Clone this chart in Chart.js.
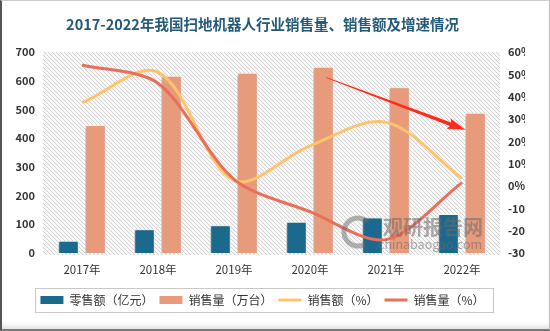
<!DOCTYPE html>
<html>
<head>
<meta charset="utf-8">
<script src="https://cdn.jsdelivr.net/npm/chart.js@4/dist/chart.umd.min.js"></script>
<style>
    body { margin: 0; background: #fff; }
    #wrap { position: relative; width: 550px; height: 331px; }
    #frame { position: absolute; left: 0; top: 0; width: 550px; height: 331px; box-sizing: border-box;
             border-left: 2px solid #555; border-right: 1px solid #bbb; border-top: 1px solid #ccc; border-bottom: 2px solid #777;
             box-shadow: inset 0 -6px 6px -4px rgba(0,0,0,0.15); pointer-events: none; }
</style>
</head>
<body>
<div id="wrap">
    <canvas id="myChart" width="550" height="331"></canvas>
    <div id="frame"></div>
</div>
<script>
    const years = ['2017年', '2018年', '2019年', '2020年', '2021年', '2022年'];
    const retailSales = [43, 83, 97, 109, 124, 136];        // 零售额（亿元）
    const salesVolume = [446, 617, 628, 649, 577, 488];     // 销售量（万台）
    const amountGrowth = [37.3, 51, 2.5, 18, 28.5, 3.4];    // 销售额（%）
    const volumeGrowth = [54.2, 46, 3, -11.5, -24, 1.5];    // 销售量（%）

    const leftTicks = [0, 100, 200, 300, 400, 500, 600, 700];
    const rightTicks = [-30, -20, -10, 0, 10, 20, 30, 40, 50, 60];

    const FONT = '"Noto Sans CJK SC", "Noto Sans", sans-serif';

    function makeHatch() {
        let c = document.createElement('canvas');
        c.width = 4;
        c.height = 4;
        let g = c.getContext('2d');
        g.fillStyle = '#f8f8f8';
        g.fillRect(0, 0, 4, 4);
        g.strokeStyle = '#d2d2d2';
        g.lineWidth = 1;
        g.beginPath();
        g.moveTo(0, 0); g.lineTo(4, 4);
        g.moveTo(-1, 3); g.lineTo(1, 5);
        g.moveTo(3, -1); g.lineTo(5, 1);
        g.stroke();
        return g.createPattern(c, 'repeat');
    }

    const backdrop = {
        id: 'backdrop',
        beforeDraw(chart) {
            let {ctx, chartArea: a} = chart;
            ctx.save();
            ctx.fillStyle = makeHatch();
            ctx.fillRect(a.left - 1, a.top, a.right - a.left + 1, a.bottom - a.top + 2);
            ctx.restore();
        },
        beforeDatasetDraw(chart, args) {
            if (chart.data.datasets[args.index].type === 'bar') {
                let ctx = chart.ctx;
                ctx.shadowColor = 'rgba(0,0,0,0.3)';
                ctx.shadowBlur = 3;
                ctx.shadowOffsetX = -1;
                ctx.shadowOffsetY = 1;
            }
        },
        afterDatasetDraw(chart) {
            let ctx = chart.ctx;
            ctx.shadowColor = 'rgba(0,0,0,0)';
            ctx.shadowBlur = 0;
            ctx.shadowOffsetX = 0;
            ctx.shadowOffsetY = 0;
        },
        afterDatasetsDraw(chart) {
            let ctx = chart.ctx;
            let y = chart.scales.y;
            let bars = chart.getDatasetMeta(1).data;

            // watermark
            ctx.save();
            ctx.fillStyle = 'rgba(105,105,105,0.55)';
            ctx.strokeStyle = 'rgba(105,105,105,0.5)';
            ctx.lineWidth = 5;
            ctx.beginPath();
            ctx.arc(358, 232, 14, Math.PI * 0.35, Math.PI * 1.75);
            ctx.stroke();
            ctx.font = 'bold 20px ' + FONT;
            ctx.textBaseline = 'middle';
            ctx.fillText('观研报告网', 383, 227);
            ctx.font = '12.5px ' + FONT;
            ctx.fillText('chinabaogao.com', 378, 244);
            ctx.restore();

            // arrow from 2020 to 2022
            let x1 = bars[3].x + 3, y1 = y.getPixelForValue(salesVolume[3]) + 11;
            let x2 = bars[5].x - 10, y2 = y.getPixelForValue(salesVolume[5]) + 17;
            let ang = Math.atan2(y2 - y1, x2 - x1);
            let len = Math.hypot(x2 - x1, y2 - y1);
            ctx.save();
            ctx.translate(x1, y1);
            ctx.rotate(ang);
            ctx.fillStyle = '#ff2b1c';
            ctx.beginPath();
            ctx.moveTo(0, -0.4);
            ctx.lineTo(len - 16, -1.8);
            ctx.lineTo(len - 18, -5.5);
            ctx.lineTo(len, 0);
            ctx.lineTo(len - 18, 5.5);
            ctx.lineTo(len - 16, 1.8);
            ctx.lineTo(0, 0.4);
            ctx.closePath();
            ctx.fill();
            ctx.restore();
        },
        afterDraw(chart) {
            let boxes = chart.legend.legendHitBoxes;
            if (!boxes || !boxes.length) return;
            let first = boxes[0], last = boxes[boxes.length - 1];
            let ctx = chart.ctx;
            ctx.save();
            ctx.strokeStyle = '#c8c8c8';
            ctx.lineWidth = 1;
            ctx.strokeRect(Math.round(first.left - 5) + 0.5, 288.5, Math.round(last.left + last.width - first.left + 14), 24);
            ctx.restore();
        }
    };

    new Chart(document.getElementById('myChart'), {
        data: {
            labels: years,
            datasets: [{
                type: 'bar',
                label: '零售额（亿元）',
                data: retailSales,
                backgroundColor: '#1b6a8e',
                borderColor: '#ffffff',
                borderWidth: 1,
                yAxisID: 'y',
                order: 2,
                categoryPercentage: 0.71,
                barPercentage: 0.76,
            }, {
                type: 'bar',
                label: '销售量（万台）',
                data: salesVolume,
                backgroundColor: '#e89b7b',
                borderColor: '#ffffff',
                borderWidth: 1,
                yAxisID: 'y',
                order: 2,
                categoryPercentage: 0.71,
                barPercentage: 0.76,
            }, {
                type: 'line',
                label: '销售额（%）',
                data: amountGrowth,
                borderColor: '#ffc36c',
                backgroundColor: '#ffc36c',
                borderWidth: 3,
                pointRadius: 0,
                tension: 0.33,
                yAxisID: 'y1',
                order: 1,
            }, {
                type: 'line',
                label: '销售量（%）',
                data: volumeGrowth,
                borderColor: '#e86f5a',
                backgroundColor: '#e86f5a',
                borderWidth: 3,
                pointRadius: 0,
                tension: 0.3,
                yAxisID: 'y1',
                order: 0,
            }]
        },
        options: {
            responsive: false,
            animation: false,
            layout: {
                padding: { left: 0, right: 25, top: 0, bottom: 15 }
            },
            plugins: {
                title: {
                    display: true,
                    text: '2017-2022年我国扫地机器人行业销售量、销售额及增速情况',
                    color: '#245a79',
                    font: { family: FONT, size: 14.5, weight: 'bold', lineHeight: 1.2 },
                    padding: { top: 16, bottom: 18.6 }
                },
                legend: {
                    position: 'bottom',
                    labels: {
                        color: '#333',
                        font: { family: FONT, size: 12 },
                        boxWidth: 23,
                        boxHeight: 8,
                        padding: 6,
                        usePointStyle: true,
                        pointStyleWidth: 23,
                        sort: (a, b) => a.datasetIndex - b.datasetIndex,
                        generateLabels(chart) {
                            let items = Chart.defaults.plugins.legend.labels.generateLabels(chart);
                            items.forEach(item => {
                                if (item.datasetIndex < 2) {
                                    item.pointStyle = 'rect';
                                    item.lineWidth = 0;
                                } else {
                                    item.pointStyle = 'line';
                                    item.lineWidth = 3;
                                }
                            });
                            return items;
                        }
                    }
                },
                tooltip: { enabled: false }
            },
            scales: {
                x: {
                    grid: { display: false, drawTicks: false },
                    border: { display: false },
                    ticks: {
                        color: '#333',
                        font: { family: FONT, size: 11.5 },
                        padding: 10,
                        maxRotation: 0,
                    },
                    afterFit: (scale) => { scale.height = 35; }
                },
                y: {
                    position: 'left',
                    min: 0,
                    max: 700,
                    grid: { display: false, drawTicks: false },
                    border: { display: false },
                    afterBuildTicks: (scale) => { scale.ticks = leftTicks.map(v => ({ value: v })); },
                    ticks: {
                        color: '#333',
                        font: { family: FONT, size: 11, weight: 'bold' },
                        padding: 9,
                    },
                    afterFit: (scale) => { scale.width = 44; }
                },
                y1: {
                    position: 'right',
                    min: -30,
                    max: 60,
                    grid: { display: false, drawTicks: false },
                    border: { display: false },
                    afterBuildTicks: (scale) => { scale.ticks = rightTicks.map(v => ({ value: v })); },
                    ticks: {
                        color: '#333',
                        font: { family: FONT, size: 11, weight: 'bold' },
                        padding: 8,
                        callback: (v) => v + '%',
                    },
                    afterFit: (scale) => { scale.width = 25; }
                }
            }
        },
        plugins: [backdrop]
    });
</script>
</body>
</html>
